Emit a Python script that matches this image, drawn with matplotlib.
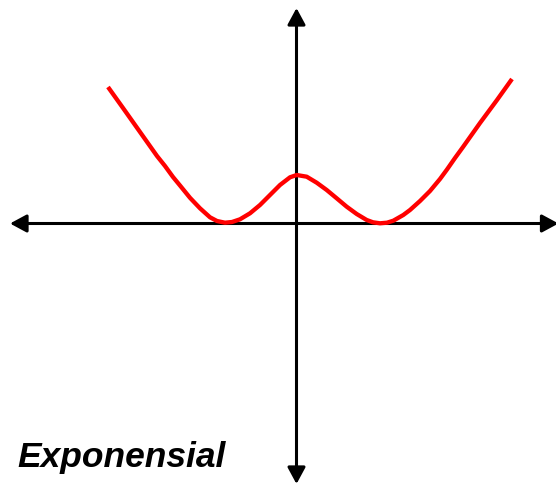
import matplotlib
matplotlib.use("Agg")
import matplotlib.pyplot as plt

# points (1 unit = 40 px, origin at the axes crossing)
curve_x = [-4.7125, -4.3375, -3.9125, -3.4875, -3.2875, -3.0875, -2.9125, -2.6625,
           -2.4125, -2.1625, -1.9875, -1.7875, -1.6125, -1.4125, -1.1625, -0.9125,
           -0.6625, -0.4125, -0.1625, 0.005, 0.255, 0.505, 0.755, 1.005, 1.255,
           1.505, 1.755, 1.9125, 2.0875, 2.2625, 2.42, 2.67, 2.8375, 3.0875,
           3.3375, 3.5875, 3.7625, 3.9625, 4.1625, 4.5875, 5.0125, 5.3875]
curve_y = [3.4125, 2.8875, 2.2875, 1.6875, 1.4375, 1.1625, 0.95, 0.6425,
           0.38, 0.155, 0.0625, 0.02, 0.0375, 0.105, 0.255, 0.4625,
           0.7125, 0.9625, 1.155, 1.2125, 1.17, 1.02, 0.8375, 0.63, 0.42,
           0.2375, 0.0875, 0.03, 0.005, 0.02, 0.07, 0.2125, 0.3375, 0.5625,
           0.8125, 1.1125, 1.35, 1.6375, 1.9125, 2.5125, 3.0875, 3.6125]

x_axis_ends = [-7.1625, 6.55]
y_axis_ends = [-6.5125, 5.3875]

label_text = "Exponensial"

fig = plt.figure(figsize=(5.56, 4.86), dpi=100)
ax = fig.add_axes([0, 0, 1, 1])
ax.set_xlim(-7.4125, 6.4875)
ax.set_ylim(-6.5625, 5.5875)
ax.axis("off")

arrow = dict(arrowstyle="<|-|>,head_length=0.5,head_width=0.27",
             color="black", lw=2.2, mutation_scale=20, shrinkA=0, shrinkB=0)
ax.annotate("", xy=(x_axis_ends[1], 0), xytext=(x_axis_ends[0], 0),
            arrowprops=arrow, annotation_clip=False)
ax.annotate("", xy=(0, y_axis_ends[1]), xytext=(0, y_axis_ends[0]),
            arrowprops=arrow, annotation_clip=False)

ax.plot(curve_x, curve_y, color="#ff0000", lw=3.1, solid_capstyle="butt",
        solid_joinstyle="round", zorder=3)

ax.text(-6.9875, -6.0875, label_text, ha="left", va="baseline",
        fontfamily="Liberation Sans", fontweight="bold", fontstyle="italic",
        fontsize=25.5)

fig.savefig("out.png", dpi=100)
